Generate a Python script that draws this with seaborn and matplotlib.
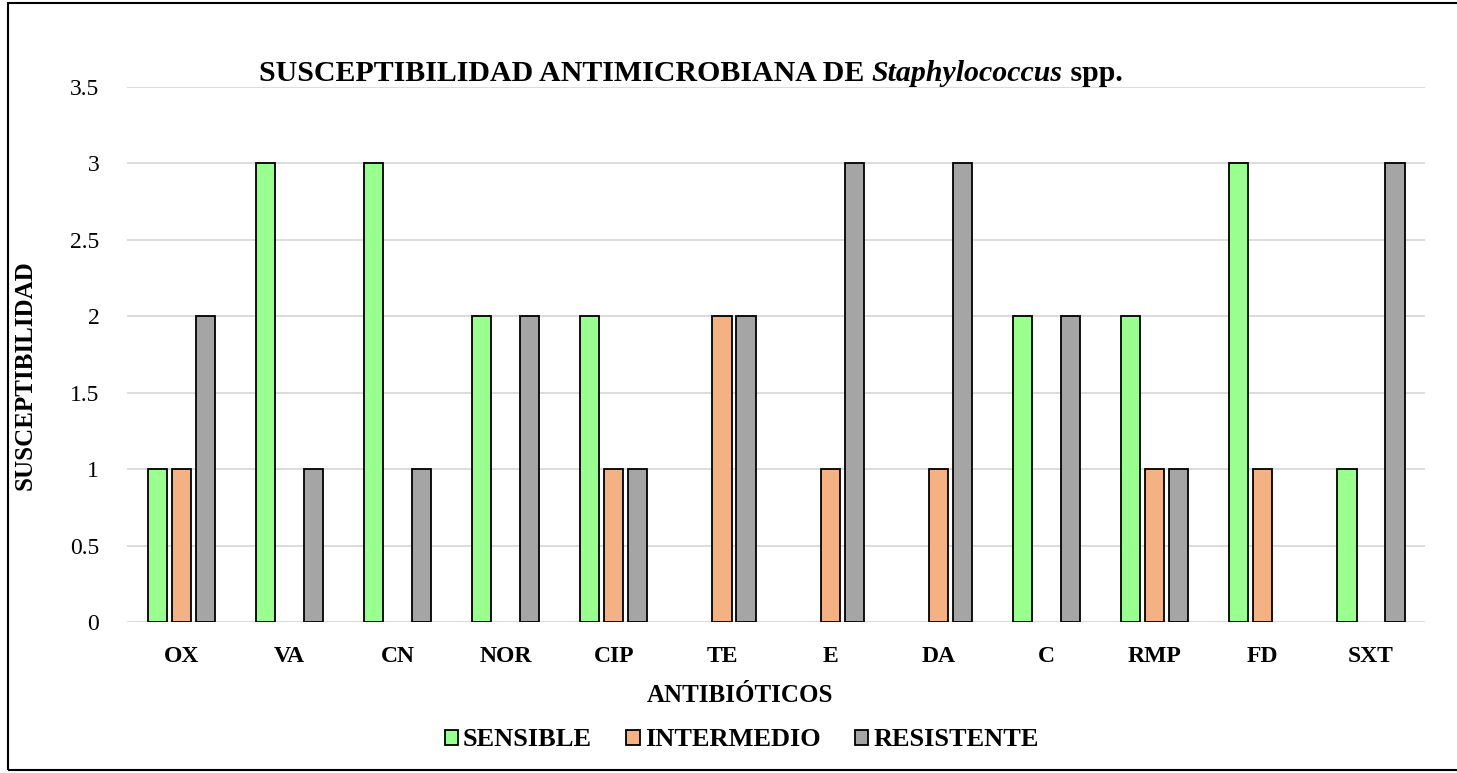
import matplotlib
matplotlib.use("Agg")
import matplotlib.pyplot as plt
import seaborn as sns
import pandas as pd
from matplotlib.patches import Rectangle, Patch

antibioticos = ['OX', 'VA', 'CN', 'NOR', 'CIP', 'TE', 'E', 'DA', 'C', 'RMP', 'FD', 'SXT']
sensible = [1, 3, 3, 2, 2, 0, 0, 0, 2, 2, 3, 1]
intermedio = [1, 0, 0, 0, 1, 2, 1, 1, 0, 1, 1, 0]
resistente = [2, 1, 1, 2, 1, 2, 3, 3, 2, 1, 0, 3]
series = ['SENSIBLE', 'INTERMEDIO', 'RESISTENTE']
colores = ['#99FF8F', '#F4B183', '#A5A5A5']

df = pd.DataFrame({'ab': antibioticos * 3,
                   'serie': [s for s in series for _ in antibioticos],
                   'valor': sensible + intermedio + resistente})

sns.set_style('white')
plt.rcParams['font.family'] = ['Liberation Serif', 'DejaVu Serif']
plt.rcParams['text.color'] = 'black'
plt.rcParams['axes.labelcolor'] = 'black'
plt.rcParams['xtick.color'] = 'black'
plt.rcParams['ytick.color'] = 'black'

fig = plt.figure(figsize=(14.57, 7.73), dpi=100)
ax = fig.add_axes([0.0872, 0.1953, 0.8909, 0.6922])

sns.barplot(data=df, x='ab', y='valor', hue='serie', order=antibioticos,
            hue_order=series, palette=colores, width=0.666, gap=0.2,
            edgecolor='black', linewidth=1.3, saturation=1, ax=ax, legend=False)

# Excel leaves empty cells blank: hide the zero bars
for p in ax.patches:
    if p.get_height() == 0:
        p.set_visible(False)

ax.set_ylim(0, 3.5)
ax.set_yticks([0, 0.5, 1, 1.5, 2, 2.5, 3, 3.5])
ax.set_yticklabels(['0', '0.5', '1', '1.5', '2', '2.5', '3', '3.5'], fontsize=17)
ax.set_xlim(-0.5, len(antibioticos) - 0.5)
ax.tick_params(axis='x', labelsize=17, length=0, pad=17)
ax.tick_params(axis='y', length=0, pad=20)
for t in ax.get_xticklabels():
    t.set_fontweight('bold')
ax.yaxis.grid(True, color='#D9D9D9', linewidth=1.3)
ax.set_axisbelow(True)
for s in ax.spines.values():
    s.set_visible(False)

ax.set_xlabel('ANTIBIÓTICOS', fontsize=18, fontweight='bold')
ax.set_ylabel('SUSCEPTIBILIDAD', fontsize=18, fontweight='bold')
ax.xaxis.set_label_coords(0.472, -0.115)
ax.yaxis.set_label_coords(-0.070, 0.462)

handles = [Patch(facecolor=c, edgecolor='black', linewidth=1.3, label=s)
           for c, s in zip(colores, series)]
fig.legend(handles=handles, loc='center', bbox_to_anchor=(0.509, 0.0427), ncol=3,
           frameon=False, prop={'size': 19, 'weight': 'bold'}, handlelength=0.5,
           handleheight=0.5, handletextpad=0.2, columnspacing=1.3)

# title with italic genus name
fig.canvas.draw()
r = fig.canvas.get_renderer()
partes = [('SUSCEPTIBILIDAD ANTIMICROBIANA DE ', 'normal'),
          ('Staphylococcus', 'italic'), (' spp.', 'normal')]
textos = [fig.text(0, 1 - 81 / 773, s, fontsize=21.5, fontweight='bold', style=st,
                   va='baseline')
          for s, st in partes]
anchos = [t.get_window_extent(r).width for t in textos]
x = 691 - sum(anchos) / 2
for t, w in zip(textos, anchos):
    t.set_x(x / fig.bbox.width)
    x += w

fig.patches.append(Rectangle((0.0055, 0.004), 1.1, 0.992, transform=fig.transFigure,
                             fill=False, edgecolor='black', linewidth=1.5))

fig.savefig('out.png', dpi=100)
